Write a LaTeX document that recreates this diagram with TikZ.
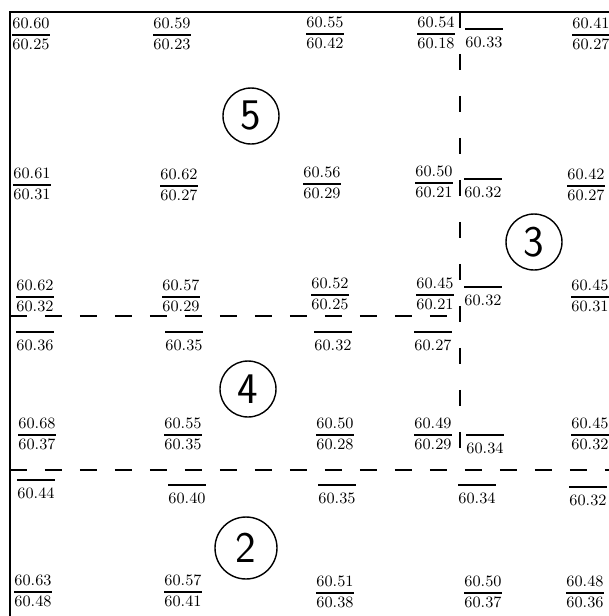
\documentclass[tikz,border=0pt]{standalone}
\newcommand{\fr}[2]{$\displaystyle{#1\above.8pt#2}$}
\newcommand{\ovl}[1]{$\displaystyle{\above.8pt\rule{0pt}{8pt}#1}$}
\begin{document}
\begin{tikzpicture}[x = .02cm, y = -.02cm,
	val/.style = {anchor = mid, inner sep = 0, font = \small},
	zone/.style = {circle, draw, line width = .8pt, minimum size = 1.12cm, inner sep = 0, font = \sffamily\Huge},
	bound/.style = {line width = 1.1pt, dash pattern = on .34cm off .36cm},
	vbound/.style = {line width = 1.1pt, dash pattern = on .32cm off .52cm}]
\useasboundingbox (0, 0) rectangle (609, 616);
\coordinate (bl) at (10, 616);
\coordinate (tl) at (10, 12);
\coordinate (tr) at (609, 12);
\coordinate (top) at (460, 12);
\coordinate (mid) at (460, 316);
\coordinate (low) at (460, 470);
\coordinate (lm) at (10, 316);
\coordinate (ll) at (10, 470);
\coordinate (rl) at (609, 470);
\draw [line width = 1.4pt] (bl) -- (tl) -- (tr);
\draw [vbound] (top) -- (low);
\draw [bound] (lm) -- (mid);
\draw [bound] (ll) -- (rl);
\foreach \x/\y/\a/\b [count = \k] in {31/35/60.60/60.25, 172/35/60.59/60.23, 325/34/60.55/60.42,
		436/34/60.54/60.18, 591/35/60.41/60.27,
		32/185/60.61/60.31, 179/186/60.62/60.27, 322/184/60.56/60.29, 434/183/60.50/60.21, 586/186/60.42/60.27,
		35/297/60.62/60.32, 181/297/60.57/60.29, 330/295/60.52/60.25, 435/295/60.45/60.21, 590/297/60.45/60.31,
		37/435/60.68/60.37, 183/435/60.55/60.35, 335/435/60.50/60.28, 433/435/60.49/60.29, 590/435/60.45/60.32,
		33/592/60.63/60.48, 183/592/60.57/60.41, 335/593/60.51/60.38, 483/593/60.50/60.37, 585/593/60.48/60.36}{
	\node [val] (f\k) at (\x, \y) {\fr{\a}{\b}};
};
\foreach \x/\y/\a [count = \k] in {484/29/60.33, 483/179/60.32, 483/287/60.32,
		35/332/60.36, 184/332/60.35, 333/332/60.32, 433/332/60.27, 485/435/60.34,
		36/480/60.44, 187/485/60.40, 337/485/60.35, 477/485/60.34, 588/487/60.32}{
	\node [val] (o\k) at (\x, \y) {\ovl{\a}};
};
\node [zone] (z5) at (251, 116) {5};
\node [zone] (z3) at (534, 242) {3};
\node [zone] (z4) at (248, 389) {4};
\node [zone, minimum size = 1.24cm] (z2) at (246, 548) {2};
\end{tikzpicture}
\end{document}
